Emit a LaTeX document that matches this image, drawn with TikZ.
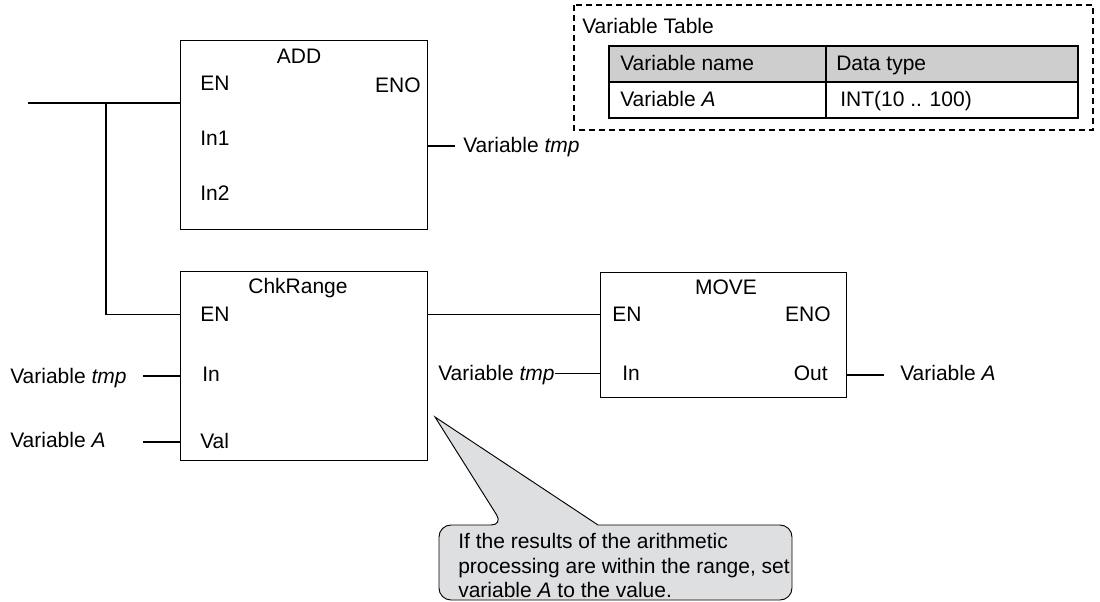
\documentclass[tikz,border=0pt]{standalone}
\usepackage{fontspec}
\setmainfont{Liberation Sans}
\usetikzlibrary{positioning}
\definecolor{notefill}{RGB}{222,223,225}
\definecolor{headfill}{RGB}{206,206,206}
\tikzset{
    fblock/.style={draw,line width=0.9pt,anchor=north west,inner sep=0pt},
    pinlbl/.style={anchor=base west,inner sep=0pt},
    pinlblr/.style={anchor=base east,inner sep=0pt},
    fname/.style={anchor=base,inner sep=0pt},
    varlbl/.style={anchor=base west,inner sep=0pt},
    wire/.style={line width=0.8pt},
    frameline/.style={line width=0.8pt,dash pattern=on 4.5pt off 3pt},
    tabline/.style={line width=0.9pt},
    tabtxt/.style={anchor=base west,inner sep=0pt},
    note/.style={draw,line width=0.7pt,fill=notefill}
}

\begin{document}
\begin{tikzpicture}[x=0.75pt,y=-0.75pt,font=\fontsize{15.75pt}{18.4pt}\selectfont]
    \useasboundingbox (0,0) rectangle (1100,602);
    % Function blocks
    \node[fblock,minimum width=185.25pt,minimum height=141.75pt] (add) at (180,40) {};
    \node[fblock,minimum width=185.25pt,minimum height=141.75pt] (chk) at (180,271) {};
    \node[fblock,minimum width=184.5pt,minimum height=93.75pt] (move) at (600,272) {};
    % Block names and pins
    \node[fname] (addName) at (299,63.5) {ADD};
    \node[pinlbl] (addEN) at (200,90.5) {EN};
    \node[pinlblr] (addENO) at (421,92.5) {ENO};
    \node[pinlbl] (addIn1) at (200,145.5) {In1};
    \node[pinlbl] (addIn2) at (200,200.5) {In2};
    \node[fname] (chkName) at (298,294) {ChkRange};
    \node[pinlbl] (chkEN) at (200,322) {EN};
    \node[pinlbl] (chkIn) at (202,382) {In};
    \node[pinlbl] (chkVal) at (200,448) {Val};
    \node[fname] (moveName) at (726,295) {MOVE};
    \node[pinlbl] (moveEN) at (612,322) {EN};
    \node[pinlblr] (moveENO) at (831,322) {ENO};
    \node[pinlbl] (moveIn) at (622,381) {In};
    \node[pinlblr] (moveOut) at (828,381) {Out};
    % Variables
    \node[varlbl] (tmpAdd) at (463,153) {Variable \textit{tmp}};
    \node[varlbl] (tmpChk) at (10,383) {Variable \textit{tmp}};
    \node[varlbl] (aChk) at (10,447) {Variable \textit{A}};
    \node[varlbl] (tmpMove) at (438,381) {Variable \textit{tmp}};
    \node[varlbl] (aMove) at (900,381) {Variable \textit{A}};
    % Wires
    \coordinate (railL) at (28,103);
    \coordinate (railJ) at (106,103);
    \draw[wire] (railL) -- (railL -| add.west);
    \draw[wire] (railJ) |- (chk.west |- chkEN);
    \coordinate (addOut) at (455,146);
    \draw[wire] (add.east |- addOut) -- (addOut);
    \draw[wire] (chk.east |- chkEN) -- (move.west |- chkEN);
    \coordinate (tmpChkEnd) at (143,376);
    \draw[wire] (tmpChkEnd) -- (tmpChkEnd -| chk.west);
    \coordinate (aChkEnd) at (143,442);
    \draw[wire] (aChkEnd) -- (aChkEnd -| chk.west);
    \draw[wire] (tmpMove.east |- moveIn) -- (move.west |- moveIn);
    \coordinate (aMoveEnd) at (884,375);
    \draw[wire] (move.east |- aMoveEnd) -- (aMoveEnd);
    % Variable table
    \draw[frameline] (574,5) rectangle (1093,130);
    \node[tabtxt] (vtTitle) at (582,34) {Variable Table};
    \fill[headfill] (609,46) rectangle (1078,82);
    \draw[tabline] (609,46) rectangle (1078,118);
    \draw[tabline] (609,82) -- (1078,82);
    \draw[tabline] (826,46) -- (826,118);
    \node[tabtxt] (hdName) at (620,71) {Variable name};
    \node[tabtxt] (hdType) at (836,71) {Data type};
    \node[tabtxt] (rowName) at (620,107) {Variable \textit{A}};
    \node[tabtxt] (rowType) at (840,107) {INT(10 .. 100)};
    % Callout
    \draw[note] (792,560) [rounded corners=9pt] -- (792,600) -- (439,600) -- (439,525) -- (503,525)
        [sharp corners] -- (435,417) -- (598,525) [rounded corners=9pt] -- (792,525) -- cycle;
    \node[anchor=north west,inner sep=0pt,align=left] (noteText) at (458,533)
        {If the results of the arithmetic\\processing are within the range, set\\variable \textit{A} to the value.};
\end{tikzpicture}
\end{document}
